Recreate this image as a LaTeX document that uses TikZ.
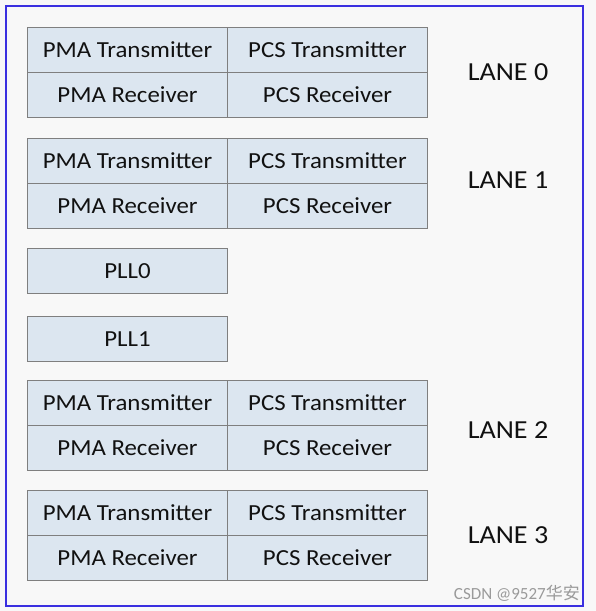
\documentclass[tikz,border=0pt]{standalone}
\usepackage{fontspec}
\setmainfont{Carlito}
\newfontfamily\cjk{Noto Sans CJK SC}
\definecolor{bg}{HTML}{F8F8F8}
\definecolor{boxfill}{HTML}{DCE6F0}
\definecolor{boxline}{HTML}{7F7F7F}
\definecolor{frameblue}{HTML}{3A2FE0}
\definecolor{txt}{HTML}{111111}
\definecolor{wm}{HTML}{9A9A9A}
\newcommand{\widetxt}[1]{\scalebox{1.08}[1]{#1}}
\begin{document}
\begin{tikzpicture}[x=1pt,y=-1pt,
  cell/.style={draw=boxline,fill=boxfill,line width=1pt,minimum width=200pt,minimum height=45pt,inner sep=0pt,anchor=north west,font=\fontsize{23}{26}\selectfont,text=txt},
  lanelabel/.style={font=\fontsize{26}{30}\selectfont,text=txt}]
\fill[bg] (0,0) rectangle (596,611);
\useasboundingbox (0,0) rectangle (596,611);
\draw[frameblue,line width=2pt] (6,6) rectangle (583,606);
% lanes
\foreach \n/\y in {0/27,1/138,2/380,3/490}{
  \node[cell] (pmat\n) at (27,\y) {\widetxt{PMA Transmitter}};
  \node[cell] (pcst\n) at (227,\y) {\widetxt{PCS Transmitter}};
  \node[cell] (pmar\n) at (27,\y+45) {\widetxt{PMA Receiver}};
  \node[cell] (pcsr\n) at (227,\y+45) {\widetxt{PCS Receiver}};
}
\node[lanelabel] (l0) at (508,72) {\widetxt{LANE 0}};
\node[lanelabel] (l1) at (508,180) {\widetxt{LANE 1}};
\node[lanelabel] (l2) at (508,430) {\widetxt{LANE 2}};
\node[lanelabel] (l3) at (508,535) {\widetxt{LANE 3}};
\node[cell] (pll0) at (27,248) {\widetxt{PLL0}};
\node[cell] (pll1) at (27,316) {\widetxt{PLL1}};
\node[text=wm,font=\fontsize{17}{19}\selectfont,anchor=east,inner sep=0pt] (wm) at (580,593) {CSDN @9527{\cjk 华安}};
\end{tikzpicture}
\end{document}
